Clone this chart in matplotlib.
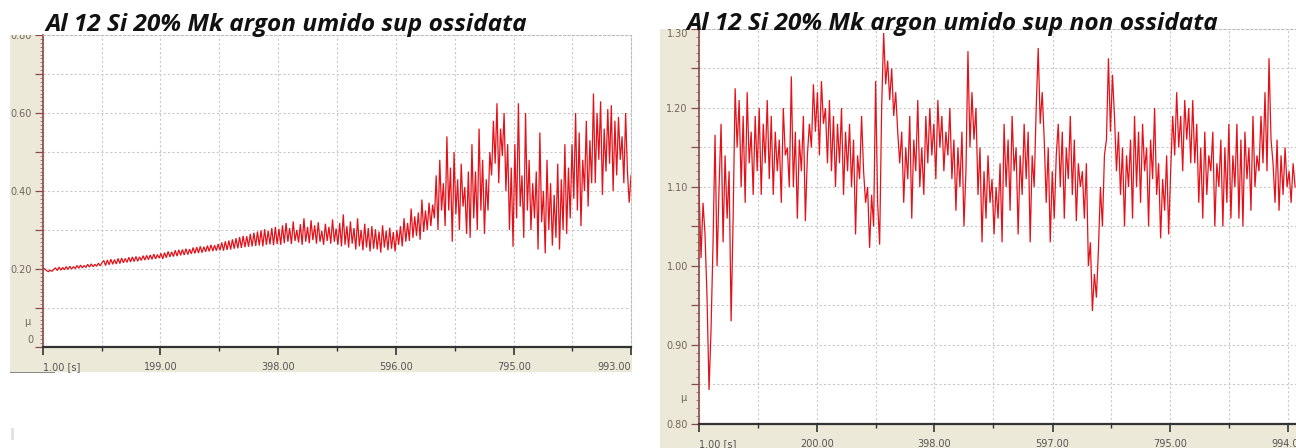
"""
Friction coefficient vs time, two tribometer screenshots side by side.
"""

import numpy as np
import matplotlib.pyplot as plt
from matplotlib.patches import Rectangle
from matplotlib.ticker import MultipleLocator

W, H = 1296, 448

# --- left test: oxidised surface (~3 s apart) ---
left_mu = [
    0.203, 0.200, 0.196, 0.193, 0.197, 0.194, 0.199,
    0.203, 0.196, 0.205, 0.197, 0.204, 0.198, 0.206, 0.199, 0.207, 0.200, 0.206, 0.201, 0.209, 0.202,
    0.210, 0.203, 0.209, 0.204, 0.212, 0.205, 0.213, 0.206, 0.212, 0.207, 0.215, 0.208, 0.216,
    0.222, 0.209, 0.223, 0.211, 0.225, 0.212, 0.224, 0.213, 0.227, 0.214, 0.228, 0.216, 0.227, 0.217,
    0.230, 0.218, 0.231, 0.219, 0.232, 0.220, 0.231, 0.222, 0.234, 0.223, 0.235, 0.224, 0.236, 0.225,
    0.238, 0.226, 0.237, 0.228, 0.240,
    0.226, 0.242, 0.229, 0.245, 0.231, 0.244, 0.232, 0.248, 0.233, 0.249, 0.235, 0.250, 0.236, 0.252,
    0.237, 0.251, 0.239, 0.255, 0.240, 0.256, 0.241, 0.258, 0.242, 0.257, 0.244, 0.260, 0.245, 0.262,
    0.246, 0.261, 0.247, 0.264, 0.248,
    0.268, 0.247, 0.271, 0.249, 0.273, 0.250, 0.276, 0.252, 0.279, 0.253, 0.282, 0.254, 0.285, 0.256,
    0.284, 0.257, 0.290, 0.258, 0.293, 0.259, 0.296, 0.260, 0.299, 0.258, 0.302, 0.262, 0.298, 0.263,
    0.305, 0.261, 0.308, 0.264, 0.303,
    0.262, 0.312, 0.266, 0.318, 0.270, 0.305, 0.264, 0.322, 0.272, 0.300, 0.268, 0.315, 0.262, 0.330,
    0.270, 0.308, 0.266, 0.325, 0.274, 0.312, 0.265, 0.320, 0.270, 0.298, 0.262, 0.316, 0.272, 0.308,
    0.265, 0.327, 0.270, 0.304, 0.262,
    0.318, 0.258, 0.340, 0.262, 0.310, 0.255, 0.322, 0.265, 0.305, 0.250, 0.330, 0.258, 0.300, 0.248,
    0.316, 0.255, 0.305, 0.245, 0.310, 0.252, 0.302, 0.250, 0.296, 0.242, 0.312, 0.255, 0.298, 0.248,
    0.306, 0.252, 0.295, 0.245, 0.300,
    0.262, 0.310, 0.258, 0.330, 0.270, 0.318, 0.272, 0.355, 0.280, 0.335, 0.285, 0.345, 0.275, 0.378,
    0.295, 0.350, 0.300, 0.370, 0.310, 0.365,
    0.330, 0.440, 0.300, 0.480, 0.350, 0.420, 0.310, 0.540, 0.350, 0.460, 0.270, 0.500, 0.340, 0.430,
    0.300, 0.470, 0.360, 0.410, 0.290, 0.450,
    0.280, 0.520, 0.330, 0.450, 0.300, 0.560, 0.350, 0.480, 0.290, 0.430, 0.350, 0.500,
    0.440, 0.580, 0.470, 0.625, 0.420, 0.560, 0.490, 0.600, 0.400, 0.520,
    0.300, 0.460, 0.257, 0.520, 0.330, 0.625, 0.360, 0.440, 0.280, 0.600, 0.350, 0.480, 0.300, 0.420, 0.330,
    0.450, 0.250, 0.550, 0.320, 0.400, 0.240, 0.480, 0.300, 0.420, 0.260, 0.390, 0.280, 0.470, 0.250,
    0.430, 0.300, 0.520, 0.290, 0.460,
    0.330, 0.520, 0.380, 0.600, 0.350, 0.550, 0.310, 0.480, 0.400, 0.580, 0.360, 0.530, 0.420,
    0.650, 0.420, 0.600, 0.480, 0.630, 0.390, 0.560, 0.450, 0.610, 0.470, 0.620, 0.400, 0.580, 0.440,
    0.590, 0.480, 0.540, 0.420, 0.600, 0.450,
    0.370, 0.440,
]
left_t_start, left_t_end = 1, 993
left_xticks = [1, 199, 398, 596, 795, 993]
left_xlabels = ['1.00 [s]', '199.00', '398.00', '596.00', '795.00', '993.00']
left_yticks = [0.0, 0.1, 0.2, 0.3, 0.4, 0.5, 0.6, 0.7, 0.8]
left_ylabels = ['', '', '0.20', '', '0.40', '', '0.60', '', '0.80']
left_title = 'Al 12 Si 20% Mk argon umido sup ossidata'

# --- right test: non-oxidised surface (~3.4 s apart) ---
right_mu = [
    1.10, 1.01, 1.08, 1.04, 0.96, 0.843, 0.92, 1.03,
    1.166, 1.00, 1.10, 1.18, 1.03, 1.14, 1.06, 1.12,
    0.93, 1.06, 1.225,
    1.15, 1.21, 1.10, 1.19, 1.08, 1.22, 1.13, 1.17, 1.09, 1.19,
    1.12, 1.20, 1.09, 1.18, 1.13, 1.21, 1.11, 1.19, 1.09, 1.17, 1.12, 1.16, 1.08, 1.20, 1.14, 1.15, 1.10,
    1.24, 1.10, 1.17, 1.06, 1.16, 1.12, 1.19, 1.057, 1.14, 1.18,
    1.15, 1.23, 1.17, 1.22, 1.14, 1.234, 1.18, 1.20, 1.13, 1.21,
    1.12, 1.19, 1.10, 1.18, 1.13, 1.20, 1.09, 1.17, 1.12, 1.18, 1.10, 1.16, 1.04, 1.14, 1.11, 1.19, 1.12,
    1.08, 1.10, 1.023, 1.09, 1.05,
    1.234, 1.08, 1.027, 1.20, 1.295, 1.23, 1.26, 1.21, 1.25, 1.19, 1.22, 1.17,
    1.13, 1.17, 1.08, 1.15, 1.11, 1.19, 1.06, 1.16, 1.12, 1.21, 1.10, 1.15, 1.09,
    1.19, 1.13, 1.20, 1.14, 1.18, 1.11, 1.21, 1.15, 1.19, 1.12, 1.17, 1.14, 1.20,
    1.11, 1.16, 1.07, 1.15, 1.10, 1.17, 1.05, 1.12,
    1.272, 1.15, 1.22, 1.16, 1.20,
    1.09, 1.15, 1.03, 1.12, 1.06, 1.14, 1.08,
    1.11, 1.04, 1.10, 1.06, 1.13, 1.03,
    1.18, 1.10, 1.16, 1.07, 1.19, 1.12, 1.15, 1.04, 1.14, 1.09, 1.18, 1.11, 1.17, 1.03, 1.14, 1.10, 1.20,
    1.276, 1.18, 1.22,
    1.16, 1.08, 1.15, 1.03, 1.12, 1.06, 1.14,
    1.18, 1.10, 1.17, 1.06, 1.15, 1.11, 1.19, 1.09, 1.16, 1.057, 1.13, 1.10,
    1.12, 1.06, 1.13,
    1.00, 1.03, 0.943, 0.99, 0.96,
    1.02, 1.10, 1.05, 1.14,
    1.16, 1.263, 1.17, 1.242, 1.19,
    1.12, 1.17, 1.09, 1.15, 1.05, 1.14, 1.10, 1.16, 1.06,
    1.19, 1.10, 1.17, 1.08, 1.18, 1.12, 1.15, 1.05, 1.16, 1.11, 1.20, 1.09,
    1.13, 1.035, 1.11, 1.07, 1.14, 1.04, 1.12,
    1.19, 1.14, 1.22, 1.15, 1.19, 1.12, 1.21, 1.16, 1.20, 1.13,
    1.21, 1.13, 1.18, 1.08, 1.15, 1.06, 1.17, 1.09, 1.14, 1.12,
    1.17, 1.05, 1.13, 1.10, 1.16, 1.05, 1.15, 1.08, 1.18, 1.06,
    1.14, 1.10, 1.18, 1.06, 1.16, 1.05, 1.17, 1.11, 1.15, 1.07, 1.19, 1.10, 1.14,
    1.12, 1.19, 1.13, 1.22, 1.12, 1.263, 1.16,
    1.13, 1.08, 1.16, 1.07, 1.14, 1.09, 1.15, 1.10, 1.12, 1.08, 1.13, 1.10,
]
right_t_start, right_t_end = 1, 1006
right_xlim = (1, 1007.5)
right_xticks = [1, 200, 398, 597, 795, 994]
right_xlabels = ['1.00 [s]', '200.00', '398.00', '597.00', '795.00', '994.00']
right_yticks = [0.80, 0.85, 0.90, 0.95, 1.00, 1.05, 1.10, 1.15, 1.20, 1.25, 1.30]
right_ylabels = ['0.80', '', '0.90', '', '1.00', '', '1.10', '', '1.20', '', '1.30']
right_title = 'Al 12 Si 20% Mk argon umido sup non ossidata'

BEIGE = '#ece9d8'
TRACE = '#e3121a'
GRID = '#c9c9c9'
LABEL = '#6f6660'


def px_box(x0, y0, x1, y1):
    """pixel box (top-left origin) -> figure fraction rect"""
    return [x0 / W, 1 - y1 / H, (x1 - x0) / W, (y1 - y0) / H]


def draw_panel(fig, frame, plot, t, mu, xlim, ylim, xticks, xlabels,
               yticks, ylabels, last_ha, mu_pos, zero_label=False):
    # beige screenshot frame behind the plot
    x0, y0, x1, y1 = frame
    fig.patches.append(Rectangle((x0 / W, 1 - y1 / H), (x1 - x0) / W, (y1 - y0) / H,
                                 transform=fig.transFigure, facecolor=BEIGE,
                                 edgecolor='none', zorder=-1))
    ax = fig.add_axes(px_box(*plot))
    ax.set_facecolor('white')
    ax.plot(t, mu, color=TRACE, linewidth=0.9, solid_joinstyle='miter')
    ax.set_xlim(*xlim)
    ax.set_ylim(*ylim)

    ax.set_xticks(xticks, labels=xlabels)
    mids = [(a + b) / 2 for a, b in zip(xticks[:-1], xticks[1:])]
    ax.set_xticks(mids, minor=True)
    ax.set_yticks(yticks, labels=ylabels)
    ax.yaxis.set_minor_locator(MultipleLocator(0.01))

    ax.grid(True, which='major', color=GRID, linestyle=(0, (2, 2)), linewidth=0.8)
    ax.grid(True, which='minor', axis='x', color=GRID, linestyle=(0, (2, 2)), linewidth=0.8)
    ax.set_axisbelow(True)

    ax.tick_params(axis='x', which='major', length=6, width=1.2, color='#333333',
                   labelsize=7, labelcolor='#555555', pad=5)
    ax.tick_params(axis='x', which='minor', length=3, width=1.0, color='#333333')
    ax.tick_params(axis='y', which='major', length=6, width=0.9, color='#8b4a4a',
                   labelsize=7, labelcolor=LABEL, pad=2)
    ax.tick_params(axis='y', which='minor', length=2, width=0.6, color='#a06a6a')

    labels = ax.get_xticklabels()
    labels[0].set_horizontalalignment('left')
    labels[-1].set_horizontalalignment(last_ha)

    for side in ['top', 'right']:
        ax.spines[side].set_color('#bdbdbd')
        ax.spines[side].set_linestyle((0, (2, 2)))
        ax.spines[side].set_linewidth(0.8)
    ax.spines['left'].set_color('#8b4a4a')
    ax.spines['left'].set_linewidth(1.2)
    ax.spines['bottom'].set_color('#333333')
    ax.spines['bottom'].set_linewidth(1.6)

    ax.text(mu_pos[0], mu_pos[1], 'µ', transform=ax.transAxes, ha='center',
            va='center', fontsize=7, color=LABEL)
    if zero_label:
        ax.text(-0.022, 0.022, '0', transform=ax.transAxes, ha='center',
                va='center', fontsize=7, color=LABEL)
    return ax


fig = plt.figure(figsize=(12.96, 4.48), dpi=100)

left_t = np.linspace(left_t_start, left_t_end, len(left_mu))
draw_panel(fig, (10, 35, 632, 372), (43, 35, 631, 347), left_t, left_mu,
           (1, 993), (0, 0.80), left_xticks, left_xlabels,
           left_yticks, left_ylabels, 'right', (-0.027, 0.08), zero_label=True)

right_t = np.linspace(right_t_start, right_t_end, len(right_mu))
ax_r = draw_panel(fig, (660, 29, 1296, 448), (699, 29, 1296, 424), right_t, right_mu,
                  right_xlim, (0.80, 1.30), right_xticks, right_xlabels,
                  right_yticks, right_ylabels, 'center', (-0.027, 0.066))
# the top label sits just inside the frame in the screenshot
ax_r.get_yticklabels()[-1].set_verticalalignment('top')

# the screenshot is cropped just above the left plot: hide the top of "0.80"
fig.patches.append(Rectangle((0, 1 - 35 / H), 42 / W, 35 / H, transform=fig.transFigure,
                             facecolor='white', edgecolor='none', zorder=5))
# small dark line under the left frame and a faint mark below
fig.patches.append(Rectangle((10 / W, 1 - 373 / H), 45 / W, 1.2 / H, transform=fig.transFigure,
                             facecolor='#8a8a8a', edgecolor='none', zorder=5))
fig.patches.append(Rectangle((11 / W, 1 - 440 / H), 3 / W, 12 / H, transform=fig.transFigure,
                             facecolor='#e2e2e2', edgecolor='none', zorder=5))

title_font = dict(fontsize=17.6, fontweight='bold', fontstyle='italic',
                  family=['Open Sans', 'DejaVu Sans'], color='#111111')
fig.text(45 / W, 1 - 31 / H, left_title, ha='left', va='baseline', zorder=6, **title_font)
fig.text(686 / W, 1 - 30 / H, right_title, ha='left', va='baseline', zorder=6, **title_font)

fig.savefig('out.png', dpi=100)
